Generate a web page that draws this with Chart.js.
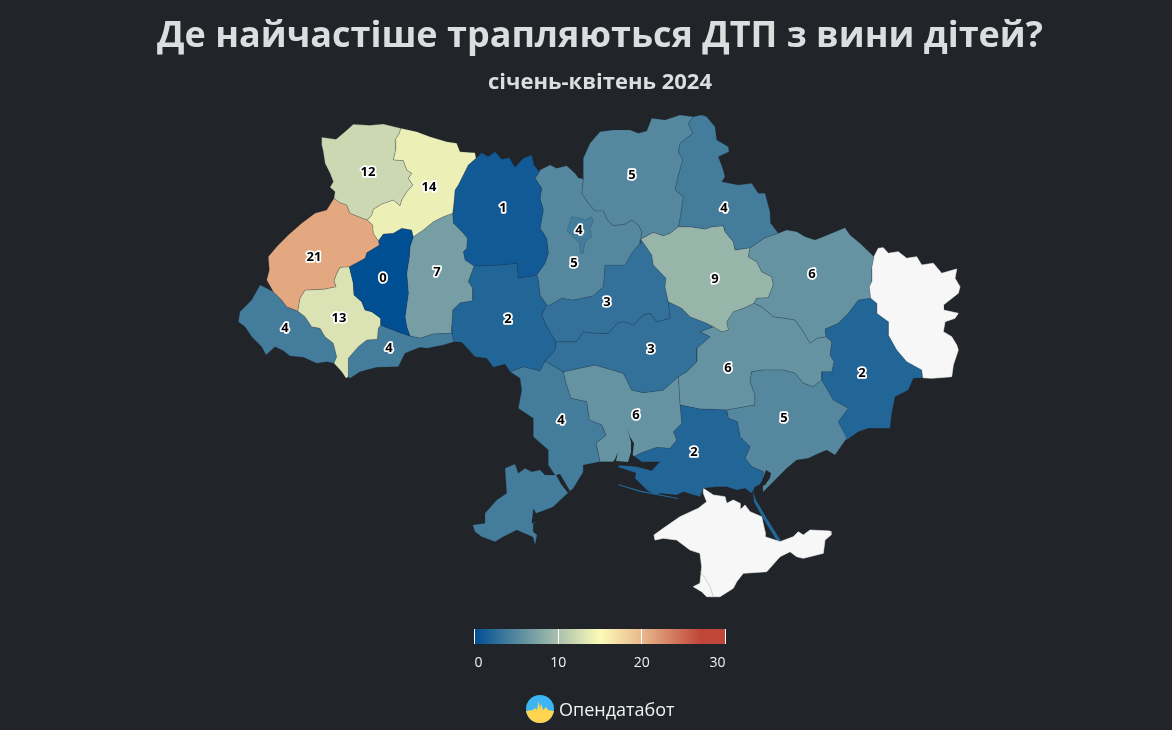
<!DOCTYPE html>
<html lang="uk">
<head>
<meta charset="utf-8">
<title>ДТП з вини дітей</title>
<script src="https://cdn.jsdelivr.net/npm/chart.js@4"></script>
<style>
  html, body { margin: 0; padding: 0; background: #212429; width: 1172px; height: 730px; overflow: hidden; }
  body { position: relative; font-family: "Open Sans", sans-serif; }
  canvas { position: absolute; }
  #map { left: 0; top: 0; }
  #colorbar { left: 450px; top: 629px; }
  h1, h2 { position: absolute; left: 0; width: 1200px; margin: 0; text-align: center; color: #dcdddf; font-weight: 700; white-space: nowrap; }
  h1 { top: 9px; font-size: 36px; line-height: 50px; }
  h2 { top: 64px; font-size: 22px; line-height: 32px; }
  #brand { position: absolute; left: 559px; top: 696px; color: #f2f2f2; font-size: 18px; line-height: 26px; }
  #logo { position: absolute; left: 526px; top: 695px; }
</style>
</head>
<body>
<canvas id="map" width="1172" height="730"></canvas>
<h1>Де найчастіше трапляються ДТП з вини дітей?</h1>
<h2>січень-квітень 2024</h2>
<canvas id="colorbar" width="300" height="50"></canvas>
<svg id="logo" width="28" height="28" viewBox="0 0 28 28">
  <defs><clipPath id="disc"><circle cx="14" cy="14" r="14"/></clipPath></defs>
  <g clip-path="url(#disc)">
    <rect width="28" height="28" fill="#3db5f4"/>
    <path d="M0 16 L7 15 L9 13 L11 15 L12.5 6 L14 13 L15.5 9 L17 15 L20 12 L22 15 L28 16 L28 28 L0 28 Z" fill="#ffd44f"/>
  </g>
</svg>
<div id="brand">Опендатабот</div>

<script>
// map units are the pixels of the source picture, y grows downwards
var volyn = [[321.7,137.3],[336,139.3],[345,131.7],[353.3,124.3],[370,125.3],[383.3,124],[400.7,128.3],[399.3,133.3],[395,140],[395.7,149.3],[393.3,160],[403.3,160.7],[406.7,170],[411.7,173.3],[408.3,178.3],[412.7,185],[406.7,191.7],[401.7,200],[400,205.7],[393.3,200],[381.7,204],[373.3,209.3],[371.7,215],[367.3,220],[360,217.3],[350,213.3],[346.7,205],[340,202.7],[334,198.3],[335,191.7],[330,187.3],[333.3,181.7],[330,173.3],[325,163.3],[323.3,151.7],[321.7,145]];
var rivne = [[400.7,128.3],[416.7,131.7],[430,136.7],[446.7,141.7],[456.7,143.3],[460,151.7],[475,152.7],[476,158.3],[468.3,165],[463.3,175],[458.3,185],[455,190],[454,201.7],[452.7,213.3],[443.3,216.7],[433.3,221.7],[423.3,230],[413.3,236.7],[411.7,230],[401.7,228.3],[393.3,233.3],[383.3,234],[378.3,240.7],[373.3,233.3],[372.7,225],[367.3,220],[371.7,215],[373.3,209.3],[381.7,204],[393.3,200],[400,205.7],[401.7,200],[406.7,191.7],[412.7,185],[408.3,178.3],[411.7,173.3],[406.7,170],[403.3,160.7],[393.3,160],[395.7,149.3],[395,140],[399.3,133.3]];
var lviv = [[334,198.3],[340,202.7],[346.7,205],[350,213.3],[360,217.3],[367.3,220],[372.7,225],[373.3,233.3],[378.3,240.7],[379.3,245],[366.7,252.7],[365,258.3],[349.3,266.7],[340,267.3],[336.7,273.3],[334,280.7],[336,286.7],[323.3,289.3],[305,290],[300,298.3],[297.7,311],[286.7,306.7],[281.7,300],[273.3,291.7],[266.7,280],[269.3,270],[268.3,256.7],[276.7,246.7],[288.3,235],[301.7,223.3],[315,213.3],[326.7,210]];
var ternopil = [[378.3,240.7],[383.3,234],[393.3,233.3],[401.7,228.3],[411.7,230],[413.3,236.7],[410,246.7],[409.3,256.7],[406.7,273.3],[408.3,293.3],[405,316.7],[406.7,326.7],[410,336],[400,332.7],[393.3,330],[388.3,328.3],[380.7,325],[380.7,318.3],[371.7,311.7],[365,310],[361.7,301.7],[354,295],[353.3,283.3],[349.3,266.7],[365,258.3],[366.7,252.7],[379.3,245]];
var frankivsk = [[349.3,266.7],[340,267.3],[336.7,273.3],[334,280.7],[336,286.7],[323.3,289.3],[305,290],[300,298.3],[297.7,311],[305,316.7],[311.7,326.7],[320,328.3],[325,336.7],[333.3,343.3],[336.7,356.7],[334,363.3],[341.7,371.7],[346,378.3],[348.3,376.7],[348.3,358.3],[358.3,346.7],[366.7,340],[377.3,339.3],[378.3,328.3],[380.7,325],[380.7,318.3],[371.7,311.7],[365,310],[361.7,301.7],[354,295],[353.3,283.3]];
var zakarpattia = [[297.7,311],[305,316.7],[311.7,326.7],[320,328.3],[325,336.7],[333.3,343.3],[336.7,356.7],[334,363.3],[326.7,361.7],[316.7,363.3],[303.3,357.3],[290,356],[283.3,350.7],[275,346.7],[266,355],[261.7,346.7],[251.7,336.7],[245,326.7],[238.3,321.7],[240,311.7],[251.7,300],[260,285],[266.7,288.3],[273.3,291.7],[281.7,300],[286.7,306.7]];
var chernivtsi = [[348.3,376.7],[348.3,358.3],[358.3,346.7],[366.7,340],[377.3,339.3],[378.3,328.3],[380.7,325],[388.3,328.3],[393.3,330],[400,332.7],[410,336],[420,338.3],[433.3,334],[451.7,333.3],[454,341.7],[443.3,345],[426.7,348.3],[420,347.3],[405,353.3],[398.3,366.7],[376.7,367.3],[360,371.7],[350,378.3]];
var khmelnytskyi = [[452.7,213.3],[453.3,223.3],[463.3,233.3],[467.3,238.3],[466.7,248.3],[463.3,251.7],[465,260],[474,266],[468.3,281.7],[472.7,288.3],[472.7,300.7],[460,302.7],[452.7,310],[451.7,326.7],[451.7,333.3],[433.3,334],[420,338.3],[410,336],[406.7,326.7],[405,316.7],[408.3,293.3],[406.7,273.3],[409.3,256.7],[410,246.7],[413.3,236.7],[423.3,230],[433.3,221.7],[443.3,216.7]];
var zhytomyr = [[476,158.3],[481.7,152.7],[488.3,156.7],[495,151.7],[501.7,159.3],[509.3,157.7],[515,167.3],[523.3,158.3],[531.7,155],[534,165],[539.3,171.7],[535,178.3],[541.7,188.3],[540,198.3],[543.3,210],[540,228.3],[546.7,238.3],[548.3,253.3],[545,263.3],[536.7,275],[518.3,278.3],[517.3,263.3],[500,265],[474,266],[465,260],[463.3,251.7],[466.7,248.3],[467.3,238.3],[463.3,233.3],[453.3,223.3],[452.7,213.3],[454,201.7],[455,190],[458.3,185],[463.3,175],[468.3,165]];
var vinnytsia = [[474,266],[500,265],[517.3,263.3],[518.3,278.3],[536.7,275],[538.3,280],[540,295],[546.7,305],[541.7,315],[546.7,326.7],[556,341.7],[555,350],[545,361],[540,370.7],[523.3,366.7],[510,371.7],[505,364],[493.3,367.3],[486.7,358.3],[475,356.7],[461.7,342.3],[454,341.7],[451.7,333.3],[451.7,326.7],[452.7,310],[460,302.7],[472.7,300.7],[472.7,288.3],[468.3,281.7]];
var kyivRegion = [[539.3,171.7],[540,170],[550,165],[556.7,168.3],[566.7,165.7],[575,173.3],[578.3,177.7],[583.3,179],[581.7,193.3],[588.3,203.3],[595,211],[603.3,211],[607.3,220],[613.3,225.7],[625,224.3],[631.7,220],[638.3,225],[641.7,231.7],[640.7,239],[640,243.3],[631.7,253.3],[625,265],[605,265],[603.3,286.7],[593.3,295.7],[573.3,300],[561.7,298.3],[550,305],[546.7,305],[540,295],[538.3,280],[536.7,275],[545,263.3],[548.3,253.3],[546.7,238.3],[540,228.3],[543.3,210],[540,198.3],[541.7,188.3],[535,178.3]];
var kyivCity = [[568.3,226.7],[571.7,216.7],[580,218.3],[585,220],[591.7,216.7],[593.3,221.7],[590,228.3],[591.7,236.7],[585,241.7],[583.3,253.3],[580.7,253.3],[579.3,243.3],[573.3,236.7],[567.3,231]];
var chernihiv = [[583.3,179],[583.3,158.3],[590,143.3],[600,131.7],[613.3,130],[630,130],[638.3,133.3],[646.7,131],[651.7,118.3],[665,120],[680,115],[693.3,116.7],[688.3,123.3],[692.7,133.3],[680,143.3],[678.3,151.7],[682.7,160],[678.3,175],[675,190],[683.3,196.7],[680,218.3],[678.3,226.7],[670,233.3],[663.3,235.7],[653.3,232.3],[645,236.7],[640.7,239],[641.7,231.7],[638.3,225],[631.7,220],[625,224.3],[613.3,225.7],[607.3,220],[603.3,211],[595,211],[588.3,203.3],[581.7,193.3]];
var sumy = [[693.3,116.7],[701.7,115],[706.7,116.7],[715,126.7],[716.7,140],[728.3,146.7],[729,151.7],[718.3,156.7],[722.7,168.3],[725,176.7],[721.7,181.7],[738.3,185],[751.7,183.3],[758.3,193.3],[765,193.3],[770,211.7],[770.7,223.3],[778.3,233.3],[765,237.7],[750,247.7],[735,250],[733.3,241.7],[725,231.7],[723.3,225.7],[711.7,226.7],[705,229],[690,226.7],[678.3,226.7],[680,218.3],[683.3,196.7],[675,190],[678.3,175],[682.7,160],[678.3,151.7],[680,143.3],[692.7,133.3],[688.3,123.3]];
var kharkiv = [[778.3,233.3],[786.7,230],[796.7,231.7],[805,236.7],[815,240],[823.3,236.7],[845,227.7],[850,235],[860,243.3],[874,256.7],[871.7,268.3],[871.7,281.7],[869.3,286.7],[870.7,298.3],[858.3,300],[848.3,313.3],[838.3,323.3],[825,329],[826,336.7],[816.7,338.3],[810,343.3],[803.3,331.7],[795,320],[785,318.3],[773.3,316.7],[761.7,306.7],[754,303.3],[756.7,298.3],[768.3,297.7],[773.3,285],[771.7,276.7],[761.7,271.7],[756.7,261.7],[748.3,256.7],[750,247.7],[765,237.7]];
var poltava = [[640.7,239],[645,236.7],[653.3,232.3],[663.3,235.7],[670,233.3],[678.3,226.7],[690,226.7],[705,229],[711.7,226.7],[723.3,225.7],[725,231.7],[733.3,241.7],[735,250],[750,247.7],[748.3,256.7],[756.7,261.7],[761.7,271.7],[771.7,276.7],[773.3,285],[768.3,297.7],[756.7,298.3],[754,303.3],[743.3,308.3],[733.3,311.7],[726.7,321.7],[728.3,330],[721.7,331.7],[713.3,326.7],[706.7,323.3],[690,316.7],[681.7,308.3],[668.3,301.7],[665,286.7],[666,278.3],[653.3,265],[651.7,255]];
var cherkasy = [[640.7,239],[651.7,255],[653.3,265],[666,278.3],[665,286.7],[668.3,301.7],[670,318.3],[656.7,321.7],[650,313.3],[643.3,315],[633.3,325],[625,321.7],[618.3,322.3],[608.3,333.3],[595,333.3],[583.3,331.7],[576.7,341.7],[556,341.7],[546.7,326.7],[541.7,315],[546.7,305],[550,305],[561.7,298.3],[573.3,300],[593.3,295.7],[603.3,286.7],[605,265],[625,265],[631.7,253.3],[640,243.3]];
var kirovohrad = [[556,341.7],[576.7,341.7],[583.3,331.7],[595,333.3],[608.3,333.3],[618.3,322.3],[625,321.7],[633.3,325],[643.3,315],[650,313.3],[656.7,321.7],[670,318.3],[668.3,301.7],[681.7,308.3],[690,316.7],[706.7,323.3],[713.3,326.7],[700,331.7],[710,336.7],[696.7,348.3],[696.7,361.7],[686.7,371.7],[678.3,376.7],[663.3,390],[643.3,392.7],[631.7,390],[623.3,373.3],[595,365],[563.3,371.7],[545,361],[555,350]];
var odesa = [[510,371.7],[523.3,366.7],[540,370.7],[545,361],[563.3,371.7],[565,380],[570.7,398.3],[586.7,401.7],[589.3,420],[601.7,425],[606,435],[596,443.3],[600,461.7],[583.3,465],[583.3,471.7],[573.3,488.3],[568,493],[555,505],[540,520],[533.3,523.3],[533.3,531.7],[537,535],[535,545],[533,537],[516.7,530],[503.3,536.7],[495,541.7],[481.7,536.7],[475,531.7],[472.7,525],[485,523.3],[485,513.3],[496.7,500],[506.7,493.3],[505,468.3],[515,464],[518.3,473.3],[525,468.3],[531.7,471.7],[540,470],[545,475],[555,475],[548.3,465],[548.3,450],[533.3,436.7],[533.3,418.3],[518.3,408.3],[521.7,390],[520,378.3]];
var mykolaiv = [[563.3,371.7],[595,365],[623.3,373.3],[631.7,390],[643.3,392.7],[663.3,390],[678.3,376.7],[680,405],[681.7,423.3],[673.3,431.7],[676.7,440],[670,448.3],[656.7,447.3],[640,453.3],[635,456],[632,463],[613.3,461.7],[600,461.7],[596,443.3],[606,435],[601.7,425],[589.3,420],[586.7,401.7],[570.7,398.3],[565,380]];
var kherson = [[680,405],[700,409],[726.7,410],[728.3,418.3],[737.3,421.7],[740,436.7],[750,446.7],[745,458.3],[751.7,466.7],[763.3,471.7],[762.7,483.3],[755,486.7],[751.7,493.3],[745,488.3],[736.7,490],[726.7,486.7],[716.7,486.7],[703.3,488.3],[700,496.7],[683.3,491.7],[676.7,495],[660,493.3],[655,495],[646.7,490],[640,483.3],[635,478.3],[636,473],[618,467],[620,463],[635,456],[640,453.3],[656.7,447.3],[670,448.3],[676.7,440],[673.3,431.7],[681.7,423.3]];
var tendraSpit = [[618.3,484],[640,490.5],[678,498],[678,499],[640,492],[618,485]];
var arabatSpit = [[753,491],[756,500],[766,517],[781,541],[777,541],[764,520],[754,502]];
var zaporizhzhia = [[726.7,410],[755,405],[755,395],[750,381.7],[751.7,371.7],[763.3,370],[783.3,370],[795,373.3],[803.3,383.3],[813.3,386.7],[821.7,380],[833.3,400],[848.3,408.3],[838.3,421.7],[846.7,438.3],[835,455],[826.7,450],[815,455],[808.3,458.3],[796.7,460],[786.7,468.3],[775,480],[763,492],[762.7,483.3],[763.3,471.7],[751.7,466.7],[745,458.3],[750,446.7],[740,436.7],[737.3,421.7],[728.3,418.3]];
var dnipro = [[713.3,326.7],[721.7,331.7],[728.3,330],[726.7,321.7],[733.3,311.7],[743.3,308.3],[754,303.3],[761.7,306.7],[773.3,316.7],[785,318.3],[795,320],[803.3,331.7],[810,343.3],[816.7,338.3],[826,336.7],[831.7,341.7],[830,355],[834,361.7],[831.7,371.7],[821.7,371.7],[821.7,380],[813.3,386.7],[803.3,383.3],[795,373.3],[783.3,370],[763.3,370],[751.7,371.7],[750,381.7],[755,395],[755,405],[726.7,410],[700,409],[680,405],[678.3,376.7],[686.7,371.7],[696.7,361.7],[696.7,348.3],[710,336.7],[700,331.7]];
var donetsk = [[825,329],[838.3,323.3],[848.3,313.3],[858.3,300],[870.7,298.3],[876.7,303.3],[876.7,313.3],[888.3,321.7],[888.3,335],[896.7,350],[906.7,361.7],[921.7,370],[922.7,377.7],[913.3,378.3],[908.3,390],[895,396.7],[891.7,413.3],[890,428.3],[868.3,428.3],[858.3,431.7],[846.7,440],[838.3,421.7],[848.3,408.3],[833.3,400],[821.7,380],[821.7,371.7],[831.7,371.7],[834,361.7],[830,355],[831.7,341.7],[826,336.7]];
var luhansk = [[874,256.7],[878.3,248.3],[883.3,247.7],[888.3,253.3],[898.3,251.7],[906.7,258.3],[916.7,256.7],[921.7,265],[933.3,263.3],[941.7,273.3],[956.7,269],[955,278.3],[960,286.7],[958.3,293.3],[943.3,305],[943.3,310],[958.3,313.3],[955,318.3],[945,321.7],[943.3,331.7],[951.7,336.7],[956.7,345],[958.3,350],[953.3,365],[951.7,376.7],[931.7,378.3],[922.7,377.7],[921.7,370],[906.7,361.7],[896.7,350],[888.3,335],[888.3,321.7],[876.7,313.3],[876.7,303.3],[870.7,298.3],[869.3,286.7],[871.7,281.7],[871.7,268.3]];
var crimea = [[703.3,488.3],[713.3,495],[725,496.7],[726.7,503.3],[733.3,500],[740,503.3],[740,510],[745,505],[750,511.7],[761.7,516.7],[765,531.7],[765,536.7],[780,541.7],[793.3,536.7],[798.3,531.7],[803.3,535],[810,530],[830,531],[831,535],[825,540],[823.3,553.3],[803.3,558.3],[796.7,556.7],[790,551.7],[780,556.7],[766.7,571.7],[743.3,573.3],[736.7,581.7],[733.3,588.3],[720,596.7],[706.7,596.7],[701.7,591.7],[693.3,586.7],[700,583.3],[701.7,566.7],[700,553.3],[690,550],[676.7,540],[663.3,538.3],[655,540],[654,535],[663.3,528.3],[680,516.7],[698.3,508.3],[706.7,501.7],[703.3,493.3]];
var sevastopolLine = [[700,571.7],[705,578],[710,586.7],[713.3,596.7]];

// estuaries and lagoons cut out of the land
var dniprovskyEstuary = [[627.3,428.3],[630,436.7],[634,443.3],[632.7,455],[641.7,461.7],[660,461.7],[651.7,470.7],[636.7,466.7],[615,465],[611,465],[615,459],[618,452],[616,461],[628,462],[631,452],[631,442]];
var dniesterEstuary = [[556,475],[560,474],[570,491],[568,493],[561,484]];
var budzhakLagoons = [[531.7,523.3],[533.3,508.3],[536,513.3],[545,510],[553.3,506.7],[555,508.3],[541.7,520]];
var utlyukLagoon = [[766,470],[771,473],[770,478],[765,485],[757,488],[762,481]];

var regionNames = ["Волинська","Рівненська","Львівська","Тернопільська","Івано-Франківська","Закарпатська","Чернівецька","Хмельницька","Житомирська","Вінницька","Київська","Чернігівська","Сумська","Харківська","Полтавська","Черкаська","Кіровоградська","Одеська","Миколаївська","Херсонська","Запорізька","Дніпропетровська","Донецька"];
var regionShapes = [volyn,rivne,lviv,ternopil,frankivsk,zakarpattia,chernivtsi,khmelnytskyi,zhytomyr,vinnytsia,kyivRegion,chernihiv,sumy,kharkiv,poltava,cherkasy,kirovohrad,odesa,mykolaiv,kherson,zaporizhzhia,dnipro,donetsk];
var regionValues = [12,14,21,0,13,4,4,7,1,2,5,5,4,6,9,3,3,4,6,2,5,6,2];
var regionLabelX = [368,429,314,383,339,285,389,437,503,508,574,632,724,812,715,607,651,561,636,694,784,728,862];
var regionLabelY = [172,187,257,278,318,328,348,272,208,319,263,175,208,274,279,302,349,420,415,452,418,368,373];

var kyivCityValue = 4;
var kyivCityLabel = [579,230];

var noDataShapes = [luhansk,crimea];
var spitShapes = [tendraSpit,arabatSpit];
var spitValue = 2;
var waterShapes = [dniprovskyEstuary,dniesterEstuary,budzhakLagoons,utlyukLagoon];

var scaleStops = [0,10,15,20,27,30];
var scaleColors = ["#004f92","#a9c0ac","#fdfbb9","#e9b88c","#c0463a","#c0463a"];
var scaleTicks = [0,10,20,30];

var bgColor = "#212429";
var noDataColor = "#f7f7f7";

function hexToRgb(hex) {
  return [parseInt(hex.substr(1,2),16), parseInt(hex.substr(3,2),16), parseInt(hex.substr(5,2),16)];
}

// value -> colour on the same scale as the colour bar
function colorFor(v) {
  var i = 0;
  while (i < scaleStops.length - 2 && v > scaleStops[i+1]) i++;
  var t = (v - scaleStops[i]) / (scaleStops[i+1] - scaleStops[i]);
  var a = hexToRgb(scaleColors[i]), b = hexToRgb(scaleColors[i+1]);
  return "rgb(" + [0,1,2].map(function(k) { return Math.round(a[k] + (b[k]-a[k])*t); }).join(",") + ")";
}

function shapeDataset(shape, fillColor, border) {
  var pts = shape.map(function(p) { return {x: p[0], y: p[1]}; });
  pts.push(pts[0]);
  return {
    data: pts,
    showLine: true,
    fill: 'shape',
    tension: 0,
    pointRadius: 0,
    borderWidth: border ? 0.6 : 0,
    borderColor: border || fillColor,
    backgroundColor: fillColor
  };
}

var labelPoints = regionValues.map(function(v, i) {
  return {x: regionLabelX[i], y: regionLabelY[i], v: v};
});
labelPoints.push({x: kyivCityLabel[0], y: kyivCityLabel[1], v: kyivCityValue});

// first dataset is painted last, so labels and water go first
var datasets = [];
datasets.push({ data: labelPoints, pointRadius: 0, showLine: false, isLabels: true });
datasets.push({ data: sevastopolLine.map(function(p) { return {x: p[0], y: p[1]}; }), showLine: true, fill: false, pointRadius: 0, borderWidth: 0.6, borderColor: "#b5b5b5" });
waterShapes.forEach(function(s) { datasets.push(shapeDataset(s, bgColor)); });
datasets.push(shapeDataset(kyivCity, colorFor(kyivCityValue), "rgba(30,50,70,0.35)"));
regionShapes.forEach(function(s, i) {
  datasets.push(shapeDataset(s, colorFor(regionValues[i]), "rgba(30,50,70,0.35)"));
});
noDataShapes.forEach(function(s) { datasets.push(shapeDataset(s, noDataColor, noDataColor)); });
spitShapes.forEach(function(s) { datasets.push(shapeDataset(s, colorFor(spitValue))); });

var regionLabels = {
  id: 'regionLabels',
  afterDatasetsDraw: function(chart) {
    var ctx = chart.ctx;
    chart.data.datasets.forEach(function(ds, i) {
      if (!ds.isLabels) return;
      chart.getDatasetMeta(i).data.forEach(function(el, j) {
        ctx.save();
        ctx.font = "700 13px 'Open Sans', sans-serif";
        ctx.textAlign = "center";
        ctx.textBaseline = "middle";
        ctx.lineJoin = "round";
        ctx.lineWidth = 3.5;
        ctx.strokeStyle = "#ffffff";
        ctx.fillStyle = "#000000";
        ctx.strokeText(ds.data[j].v, el.x, el.y);
        ctx.fillText(ds.data[j].v, el.x, el.y);
        ctx.restore();
      });
    });
  }
};

var mapChart = new Chart(document.getElementById("map"), {
  type: 'scatter',
  data: { datasets: datasets },
  plugins: [regionLabels],
  options: {
    responsive: false,
    animation: false,
    layout: { padding: 0 },
    plugins: { legend: { display: false }, tooltip: { enabled: false } },
    scales: {
      x: { type: 'linear', display: false, min: 0, max: 1172 },
      y: { type: 'linear', display: false, min: 0, max: 730, reverse: true }
    }
  }
});

// colour bar
function barGradient(context) {
  var chart = context.chart;
  if (!chart.chartArea) return scaleColors[0];
  var sc = chart.scales.x;
  var g = chart.ctx.createLinearGradient(sc.getPixelForValue(0), 0, sc.getPixelForValue(30), 0);
  scaleStops.forEach(function(s, i) { g.addColorStop(s / 30, scaleColors[i]); });
  return g;
}

var colorbarChart = new Chart(document.getElementById("colorbar"), {
  type: 'bar',
  data: {
    labels: ["ДТП"],
    datasets: [{ data: [30], backgroundColor: barGradient, barPercentage: 1, categoryPercentage: 1, borderWidth: 0 }]
  },
  options: {
    indexAxis: 'y',
    responsive: false,
    animation: false,
    layout: { padding: { left: 24.5, right: 24.5, top: 0, bottom: 0 } },
    plugins: { legend: { display: false }, tooltip: { enabled: false } },
    scales: {
      x: {
        min: 0,
        max: 30,
        afterBuildTicks: function(axis) { axis.ticks = scaleTicks.map(function(v) { return {value: v}; }); },
        afterFit: function(axis) { axis.height = 35; },
        border: { display: false },
        grid: { color: "#ffffff", lineWidth: 1, z: 1, drawTicks: false },
        ticks: { color: "#f2f2f2", align: 'inner', maxRotation: 0, padding: 11, font: { family: "'Open Sans', sans-serif", size: 14 } }
      },
      y: { display: false }
    }
  }
});
</script>
</body>
</html>
